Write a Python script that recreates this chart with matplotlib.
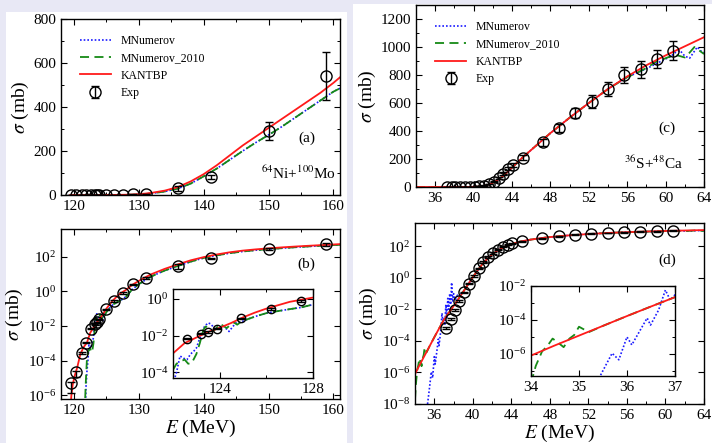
import matplotlib
matplotlib.use("Agg")
import matplotlib.pyplot as plt
from matplotlib.patches import Rectangle
from matplotlib.ticker import MultipleLocator, NullLocator

plt.rcParams['font.family'] = ['Liberation Serif', 'DejaVu Serif']
plt.rcParams['mathtext.fontset'] = 'stix'
plt.rcParams['xtick.direction'] = 'in'
plt.rcParams['ytick.direction'] = 'in'
plt.rcParams['xtick.top'] = True
plt.rcParams['ytick.right'] = True

# ==========================================
# 64Ni + 100Mo  (panels a, b)
# ==========================================
exp_E_ni = [119.6, 120.3, 121.3, 121.8, 122.6, 123.2, 123.5, 123.9, 124.9, 126.2, 127.5, 129.1, 131.1, 136.1, 141.1, 150.0, 158.8]
exp_s_ni = [5e-6, 2.3e-5, 2.7e-4, 1.1e-3, 7e-3, 1.3e-2, 1.6e-2, 2.4e-2, 0.09, 0.28, 0.8, 2.5, 6.0, 30, 82, 290, 540]
exp_lo_ni = [3.6e-6, 1.2e-5, 2.5e-5, 1e-4, 6e-4, 1.2e-3, 1.5e-3, 2e-3, 8e-3, 0.025, 0.07, 0.2, 0.5, 10, 8, 40, 110]
exp_hi_ni = [5e-7, 2e-6, 2.5e-5, 1e-4, 6e-4, 1.2e-3, 1.5e-3, 2e-3, 8e-3, 0.025, 0.07, 0.2, 0.5, 10, 8, 40, 110]

kan_E_ni = [119.4, 119.6, 119.8, 120.1, 120.5, 121.0, 121.5, 122.0, 122.5, 123.0, 123.5, 124.0, 124.5, 125.0, 125.5, 126.0, 127.0, 128.0, 129.0, 130.0, 131.0, 132.0, 134.0, 136.0, 138.0, 140.0, 142.0, 144.0, 146.0, 148.0, 150.0, 152.0, 154.0, 156.0, 158.0, 160.0, 161.0]
kan_s_ni = [1e-7, 1e-6, 4e-6, 1.3e-5, 4e-5, 2.5e-4, 6e-4, 1.1e-3, 4e-3, 8e-3, 1.6e-2, 2.7e-2, 5e-2, 0.1, 0.18, 0.3, 0.7, 1.2, 2.4, 4.0, 6.5, 10, 20, 36, 62, 95, 135, 180, 225, 265, 305, 345, 385, 425, 465, 510, 535]

mnum_E_ni = [121.75, 121.85, 122.0, 122.15, 122.3, 122.45, 122.6, 122.75, 122.9, 123.0, 123.1, 123.2, 123.35, 123.5, 123.6, 123.85, 124.0, 124.15, 124.4, 124.55, 124.7, 124.9, 125.2, 125.6, 126.0, 126.5, 127.0, 127.5, 128.0, 129.0, 130.0, 131.0, 132.0, 134.0, 136.0, 138.0, 140.0, 142.0, 144.0, 146.0, 148.0, 150.0, 152.0, 154.0, 156.0, 158.0, 160.0, 161.0]
mnum_s_ni = [1e-7, 3e-6, 2.5e-5, 1.0e-4, 7.9e-4, 6e-4, 5e-4, 1e-3, 1.5e-3, 2.1e-3, 5e-3, 1e-2, 3.2e-2, 5e-2, 4.5e-2, 2.1e-2, 2.8e-2, 3.5e-2, 1.7e-2, 3e-2, 5e-2, 5.5e-2, 8e-2, 0.12, 0.17, 0.22, 0.28, 0.35, 0.5, 1.3, 2.6, 4.5, 7.5, 16, 29, 52, 85, 120, 160, 200, 238, 273, 310, 350, 390, 430, 470, 485]

m10_E_ni = [121.65, 121.8, 122.0, 122.15, 122.3, 122.5, 122.65, 122.8, 123.0, 123.15, 123.3, 123.4, 123.55, 123.7, 123.85, 124.0, 124.15, 124.3, 124.45, 124.6, 124.75, 124.9, 125.2, 125.6, 126.0, 126.5, 127.0, 127.5, 128.0, 129.0, 130.0, 131.0, 132.0, 134.0, 136.0, 138.0, 140.0, 142.0, 144.0, 146.0, 148.0, 150.0, 152.0, 154.0, 156.0, 158.0, 160.0, 161.0]
m10_s_ni = [1e-7, 4e-6, 1.4e-4, 3e-4, 4e-4, 5e-4, 3e-4, 3.2e-4, 1e-3, 4e-3, 2.1e-2, 3.2e-2, 2.5e-2, 1.7e-2, 2.5e-2, 4.5e-2, 3.5e-2, 2.6e-2, 3.8e-2, 5.4e-2, 4e-2, 5.5e-2, 8e-2, 0.12, 0.17, 0.22, 0.28, 0.35, 0.5, 1.3, 2.6, 4.5, 7.5, 16, 29, 52, 85, 120, 160, 200, 238, 273, 310, 350, 390, 430, 470, 485]

# ==========================================
# 36S + 48Ca  (panels c, d)
# ==========================================
exp_E_s = [37.2, 37.7, 38.1, 38.6, 39.1, 39.6, 40.1, 40.6, 41.1, 41.6, 42.1, 42.6, 43.1, 43.6, 44.1, 45.1, 47.2, 48.9, 50.6, 52.3, 54.0, 55.7, 57.4, 59.1, 60.8]
exp_s_s = [6.8e-4, 2.5e-3, 9e-3, 0.035, 0.12, 0.42, 1.3, 4.0, 10, 21, 38, 62, 95, 130, 155, 210, 320, 420, 530, 610, 700, 800, 840, 915, 975]
exp_err_s = [1e-4, 3e-4, 1e-3, 4e-3, 0.012, 0.04, 0.12, 0.4, 1, 2, 4, 6, 9, 12, 14, 18, 25, 30, 35, 45, 50, 55, 60, 65, 65]

kan_E_s = [34.0, 34.5, 35.0, 35.5, 36.0, 36.5, 37.0, 37.5, 38.0, 38.5, 39.0, 39.5, 40.0, 40.5, 41.0, 41.5, 42.0, 42.5, 43.0, 43.5, 44.0, 45.0, 46.0, 47.0, 48.0, 50.0, 52.0, 54.0, 56.0, 58.0, 60.0, 62.0, 64.0]
kan_s_s = [8e-7, 3.2e-6, 1.2e-5, 4.5e-5, 1.7e-4, 6.2e-4, 2.2e-3, 6e-3, 1.6e-2, 4.5e-2, 0.13, 0.38, 1.1, 3.0, 7.5, 16, 30, 50, 75, 105, 138, 205, 265, 325, 385, 495, 600, 700, 790, 870, 940, 1005, 1070]

mnum_E_s = [35.3, 35.44, 35.69, 35.83, 36.0, 36.1, 36.42, 36.49, 36.66, 36.8, 36.9, 37.0, 37.1, 37.2, 37.3, 37.4, 37.5, 37.6, 37.7, 37.8, 37.9, 38.0, 38.2, 38.4, 38.6, 38.8, 39.0, 39.5, 40.0, 40.5, 41.0, 41.5, 42.0, 42.5, 43.0, 43.5, 44.0, 45.0, 46.0, 47.0, 48.0, 50.0, 52.0, 54.0, 56.0, 58.0, 59.0, 60.0, 60.5, 61.0, 61.5, 62.0, 62.5, 63.0, 63.3, 63.7, 64.0]
mnum_s_s = [1e-8, 5e-8, 1.1e-6, 4.5e-7, 1e-5, 3.4e-6, 1.3e-4, 5e-5, 3.9e-4, 5.8e-3, 1.5e-3, 3e-3, 1e-3, 2e-2, 3e-3, 5e-2, 1e-2, 0.1, 0.02, 0.5, 0.03, 0.1, 0.04, 0.08, 0.06, 0.1, 0.13, 0.38, 1.1, 3.0, 7.5, 16, 30, 50, 75, 105, 138, 205, 265, 325, 385, 495, 600, 700, 785, 845, 880, 915, 930, 960, 975, 935, 920, 970, 1000, 970, 960]

m10_E_s = [34.0, 34.1, 34.23, 34.35, 34.45, 34.55, 34.68, 34.8, 34.9, 35.0, 35.1, 35.2, 35.5, 36.0, 36.5, 37.0, 37.5, 38.0, 38.5, 39.0, 39.5, 40.0, 40.5, 41.0, 41.5, 42.0, 42.5, 43.0, 43.5, 44.0, 45.0, 46.0, 47.0, 48.0, 50.0, 52.0, 54.0, 56.0, 57.0, 58.0, 59.0, 59.5, 60.0, 61.0, 61.5, 62.0, 62.5, 63.0, 63.5, 64.0]
m10_s_s = [2e-8, 2e-7, 1.4e-6, 3.2e-6, 8e-6, 5e-6, 2.5e-6, 8e-6, 1.3e-5, 4e-5, 2.8e-5, 1.9e-5, 4.5e-5, 1.7e-4, 6.2e-4, 2.2e-3, 6e-3, 1.6e-2, 4.5e-2, 0.13, 0.38, 1.1, 3.0, 7.5, 16, 30, 50, 75, 105, 138, 205, 265, 325, 385, 495, 600, 700, 785, 815, 850, 895, 905, 920, 945, 935, 925, 960, 1000, 975, 950]

BLUE = '#1a1aff'
GREEN = '#168a16'
RED = '#ff1a1a'


def draw_curves(ax, E_m, s_m, E_10, s_10, E_k, s_k):
    l1, = ax.plot(E_m, s_m, color=BLUE, ls=(0, (1, 1.2)), lw=1.2, label='MNumerov')
    l2, = ax.plot(E_10, s_10, color=GREEN, ls=(0, (5, 3)), lw=1.3, label='MNumerov_2010')
    l3, = ax.plot(E_k, s_k, color=RED, ls='-', lw=1.3, label='KANTBP')
    return [l1, l2, l3]


def draw_exp(ax, E, s, yerr, ms=8):
    return ax.errorbar(E, s, yerr=yerr, fmt='o', mfc='none', mec='black', mew=1.0,
                       ms=ms, ecolor='black', elinewidth=1.0, capsize=3, label='Exp', zorder=5)


def style_ax(ax):
    ax.tick_params(labelsize=11, length=4, width=0.8)
    ax.tick_params(which='minor', length=2.5, width=0.7)
    for sp in ax.spines.values():
        sp.set_linewidth(1.0)


fig = plt.figure(figsize=(7.12, 4.43), dpi=100)
fig.patch.set_facecolor('#e8e8f5')
fig.add_artist(Rectangle((0.0084, 0.0), 0.479, 0.9729, transform=fig.transFigure,
                         facecolor='white', edgecolor='none', zorder=-1))
fig.add_artist(Rectangle((0.4958, 0.0), 0.5042, 0.991, transform=fig.transFigure,
                         facecolor='white', edgecolor='none', zorder=-1))

# ---------- (a) ----------
ax_a = fig.add_axes([0.0857, 0.5598, 0.3918, 0.3973])
lines = draw_curves(ax_a, mnum_E_ni, mnum_s_ni, m10_E_ni, m10_s_ni, kan_E_ni, kan_s_ni)
eb = draw_exp(ax_a, exp_E_ni, exp_s_ni, [exp_lo_ni, exp_hi_ni])
ax_a.set_xlim(118, 161)
ax_a.set_ylim(0, 800)
ax_a.set_xticks([120, 130, 140, 150, 160])
ax_a.xaxis.set_minor_locator(MultipleLocator(5))
ax_a.set_yticks([0, 200, 400, 600, 800])
ax_a.yaxis.set_minor_locator(MultipleLocator(100))
ax_a.set_ylabel(r'$\sigma$ (mb)', fontsize=14, labelpad=2)
ax_a.legend(lines + [eb], ['MNumerov', 'MNumerov_2010', 'KANTBP', 'Exp'],
            loc='upper left', bbox_to_anchor=(0.03, 0.97), frameon=False,
            fontsize=8.5, handlelength=2.6, labelspacing=0.45)
ax_a.text(0.88, 0.32, '(a)', transform=ax_a.transAxes, fontsize=11, ha='center', va='center')
ax_a.text(0.85, 0.125, r'$^{64}$Ni+$^{100}$Mo', transform=ax_a.transAxes, fontsize=11, ha='center', va='center')
style_ax(ax_a)

# ---------- (b) ----------
ax_b = fig.add_axes([0.0857, 0.0993, 0.3918, 0.3838])
draw_curves(ax_b, mnum_E_ni, mnum_s_ni, m10_E_ni, m10_s_ni, kan_E_ni, kan_s_ni)
draw_exp(ax_b, exp_E_ni, exp_s_ni, [exp_lo_ni, exp_hi_ni])
ax_b.set_yscale('log')
ax_b.set_xlim(118, 161)
ax_b.set_ylim(6e-7, 4e3)
ax_b.set_xticks([120, 130, 140, 150, 160])
ax_b.xaxis.set_minor_locator(MultipleLocator(5))
ax_b.set_yticks([1e-6, 1e-4, 1e-2, 1e0, 1e2])
ax_b.yaxis.set_minor_locator(NullLocator())
ax_b.set_ylabel(r'$\sigma$ (mb)', fontsize=14, labelpad=2)
ax_b.set_xlabel(r'$E$ (MeV)', fontsize=14, labelpad=1)
ax_b.text(0.88, 0.79, '(b)', transform=ax_b.transAxes, fontsize=11, ha='center', va='center')
style_ax(ax_b)

# inset of (b)
ax_bi = fig.add_axes([0.243, 0.1467, 0.1966, 0.2009])
draw_curves(ax_bi, mnum_E_ni, mnum_s_ni, m10_E_ni, m10_s_ni, kan_E_ni, kan_s_ni)
draw_exp(ax_bi, exp_E_ni, exp_s_ni, [exp_lo_ni, exp_hi_ni], ms=6)
ax_bi.set_yscale('log')
ax_bi.set_xlim(122, 128)
ax_bi.set_ylim(5e-5, 3.5)
ax_bi.set_xticks([124, 128])
ax_bi.set_xticks([126], minor=True)
ax_bi.set_yticks([1e-4, 1e-2, 1e0])
ax_bi.yaxis.set_minor_locator(NullLocator())
style_ax(ax_bi)

# ---------- (c) ----------
ax_c = fig.add_axes([0.5843, 0.5779, 0.4045, 0.4108])
lines = draw_curves(ax_c, mnum_E_s, mnum_s_s, m10_E_s, m10_s_s, kan_E_s, kan_s_s)
eb = draw_exp(ax_c, exp_E_s, exp_s_s, exp_err_s)
ax_c.set_xlim(34, 64)
ax_c.set_ylim(0, 1300)
ax_c.set_xticks(range(36, 65, 4))
ax_c.xaxis.set_minor_locator(MultipleLocator(2))
ax_c.set_yticks(range(0, 1201, 200))
ax_c.yaxis.set_minor_locator(MultipleLocator(100))
ax_c.set_ylabel(r'$\sigma$ (mb)', fontsize=14, labelpad=2)
ax_c.legend(lines + [eb], ['MNumerov', 'MNumerov_2010', 'KANTBP', 'Exp'],
            loc='upper left', bbox_to_anchor=(0.03, 0.97), frameon=False,
            fontsize=8.5, handlelength=2.6, labelspacing=0.45)
ax_c.text(0.872, 0.324, '(c)', transform=ax_c.transAxes, fontsize=11, ha='center', va='center')
ax_c.text(0.826, 0.13, r'$^{36}$S+$^{48}$Ca', transform=ax_c.transAxes, fontsize=11, ha='center', va='center')
style_ax(ax_c)

# ---------- (d) ----------
ax_d = fig.add_axes([0.5829, 0.0880, 0.4059, 0.4086])
draw_curves(ax_d, mnum_E_s, mnum_s_s, m10_E_s, m10_s_s, kan_E_s, kan_s_s)
draw_exp(ax_d, exp_E_s, exp_s_s, exp_err_s)
ax_d.set_yscale('log')
ax_d.set_xlim(34, 64)
ax_d.set_ylim(1e-8, 3e3)
ax_d.set_xticks(range(36, 65, 4))
ax_d.xaxis.set_minor_locator(MultipleLocator(2))
ax_d.set_yticks([1e-8, 1e-6, 1e-4, 1e-2, 1e0, 1e2])
ax_d.yaxis.set_minor_locator(NullLocator())
ax_d.set_ylabel(r'$\sigma$ (mb)', fontsize=14, labelpad=2)
ax_d.set_xlabel(r'$E$ (MeV)', fontsize=14, labelpad=1)
ax_d.text(0.872, 0.796, '(d)', transform=ax_d.transAxes, fontsize=11, ha='center', va='center')
style_ax(ax_d)

# inset of (d)
ax_di = fig.add_axes([0.7458, 0.1512, 0.2022, 0.2032])
draw_curves(ax_di, mnum_E_s, mnum_s_s, m10_E_s, m10_s_s, kan_E_s, kan_s_s)
ax_di.set_yscale('log')
ax_di.set_xlim(34, 37)
ax_di.set_ylim(5e-8, 1e-2)
ax_di.set_xticks([34, 35, 36, 37])
ax_di.set_yticks([1e-6, 1e-4, 1e-2])
ax_di.set_yticks([1e-7, 1e-5, 1e-3], minor=True)
ax_di.set_yticklabels([], minor=True)
style_ax(ax_di)

fig.savefig('out.png', dpi=100)
